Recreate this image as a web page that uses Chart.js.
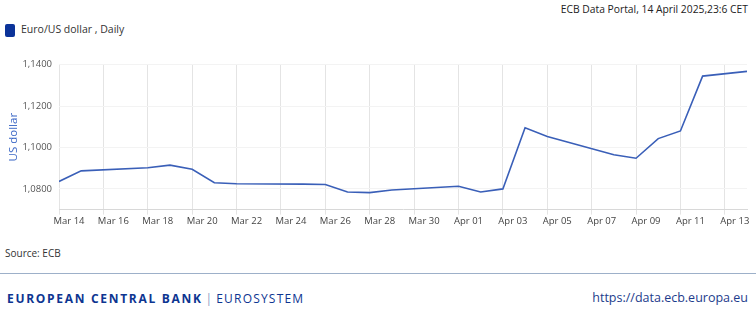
<!DOCTYPE html>
<html>
<head>
<meta charset="utf-8">
<script src="https://cdn.jsdelivr.net/npm/chart.js@4.4.0/dist/chart.umd.min.js"></script>
<style>
  body { margin: 0; width: 756px; height: 331px; background: #fff; font-family: "Open Sans", sans-serif; position: relative; overflow: hidden; }
  .abs { position: absolute; white-space: nowrap; }
  #stamp { right: 8px; top: 2px; font-size: 10.3px; color: #222; }
  #legend { left: 5px; top: 22px; font-size: 10.5px; color: #333; }
  #legend span.box { display: inline-block; width: 10px; height: 13px; background: #0b3399; border-radius: 2px; vertical-align: middle; margin-right: 6px; }
  #source { left: 5px; top: 246px; font-size: 10px; color: #333; }
  #rule { left: 0; top: 273px; width: 756px; height: 0; border-top: 1.5px solid #9db0c9; }
  #bank { left: 7px; top: 290px; font-size: 12px; color: #0d3591; }
  #bank b { letter-spacing: 1.7px; }
  #bank .sep { color: #8a9bbf; margin: 0 4px 0 3px; }
  #bank .sys { letter-spacing: 1.2px; }
  #url { right: 8px; top: 289px; font-size: 12.5px; color: #1d3c8c; }
  #wrap { left: 0; top: 52px; width: 756px; height: 180px; }
</style>
</head>
<body>
<div class="abs" id="stamp">ECB Data Portal, 14 April 2025,23:6 CET</div>
<div class="abs" id="legend"><span class="box"></span>Euro/US dollar , Daily</div>
<div class="abs" id="wrap"><canvas id="chart" width="756" height="176"></canvas></div>
<div class="abs" id="source">Source: ECB</div>
<div class="abs" id="rule"></div>
<div class="abs" id="bank"><b>EUROPEAN CENTRAL BANK</b><span class="sep">|</span><span class="sys">EUROSYSTEM</span></div>
<div class="abs" id="url">https://data.ecb.europa.eu</div>

<script>
// days counted from Mar 14 (as plotted on the axis)
var days = [0, 1, 4, 5, 6, 7, 8, 11, 12, 13, 14, 15, 18, 19, 20, 21, 22, 25, 26, 27, 28, 29, 31];
var rates = [1.0836, 1.0887, 1.0902, 1.0915, 1.0895, 1.0830, 1.0825, 1.0823, 1.0821, 1.0785, 1.0782, 1.0795,
             1.0813, 1.0785, 1.0800, 1.1095, 1.1053, 1.0965, 1.0948, 1.1043, 1.1080, 1.1345, 1.1368];

var xTickDays = [0, 2, 4, 6, 8, 10, 12, 14, 16, 18, 20, 22, 24, 26, 28, 30];
var xTickLabels = ["Mar 14", "Mar 16", "Mar 18", "Mar 20", "Mar 22", "Mar 24", "Mar 26", "Mar 28",
                   "Mar 30", "Apr 01", "Apr 03", "Apr 05", "Apr 07", "Apr 09", "Apr 11", "Apr 13"];
var yTicks = [1.08, 1.10, 1.12, 1.14];

var points = [];
for (var i = 0; i < days.length; i++) {
  points.push({ x: days[i], y: rates[i] });
}

var ctx = document.getElementById("chart").getContext("2d");
var chart = new Chart(ctx, {
  type: "line",
  data: {
    datasets: [{
      label: "Euro/US dollar , Daily",
      data: points,
      borderColor: "#3a5fb8",
      borderWidth: 1.6,
      pointRadius: 0,
      tension: 0
    }]
  },
  options: {
    responsive: false,
    animation: false,
    layout: { padding: { top: 10, right: 9, left: 0, bottom: 0 } },
    plugins: { legend: { display: false }, tooltip: { enabled: false } },
    scales: {
      x: {
        type: "linear",
        min: 0,
        max: 31,
        afterBuildTicks: function(scale) {
          scale.ticks = xTickDays.map(function(d) { return { value: d }; });
        },
        ticks: {
          font: { family: "Open Sans", size: 9.5 },
          color: "#444",
          maxRotation: 0,
          autoSkip: false,
          labelOffset: 10,
          padding: 1,
          callback: function(value) {
            var k = xTickDays.indexOf(value);
            return k >= 0 ? xTickLabels[k] : "";
          }
        },
        grid: { color: "#e4e4e4", lineWidth: 1, tickLength: 5, drawTicks: true },
        border: { color: "#d8d8d8" }
      },
      y: {
        min: 1.07,
        max: 1.14,
        afterBuildTicks: function(scale) {
          scale.ticks = yTicks.map(function(v) { return { value: v }; });
        },
        afterFit: function(scale) { scale.width = 59; },
        ticks: {
          font: { family: "Open Sans", size: 9.5 },
          color: "#555",
          padding: 7,
          callback: function(value) { return value.toFixed(4).replace(".", ","); }
        },
        grid: { color: "#f3f3f3", drawTicks: false },
        border: { display: false },
        title: {
          display: true,
          text: "US dollar",
          color: "#3c68c6",
          font: { family: "Open Sans", size: 11.5 },
          padding: { top: 7, bottom: 0 }
        }
      }
    }
  }
});
</script>
</body>
</html>
